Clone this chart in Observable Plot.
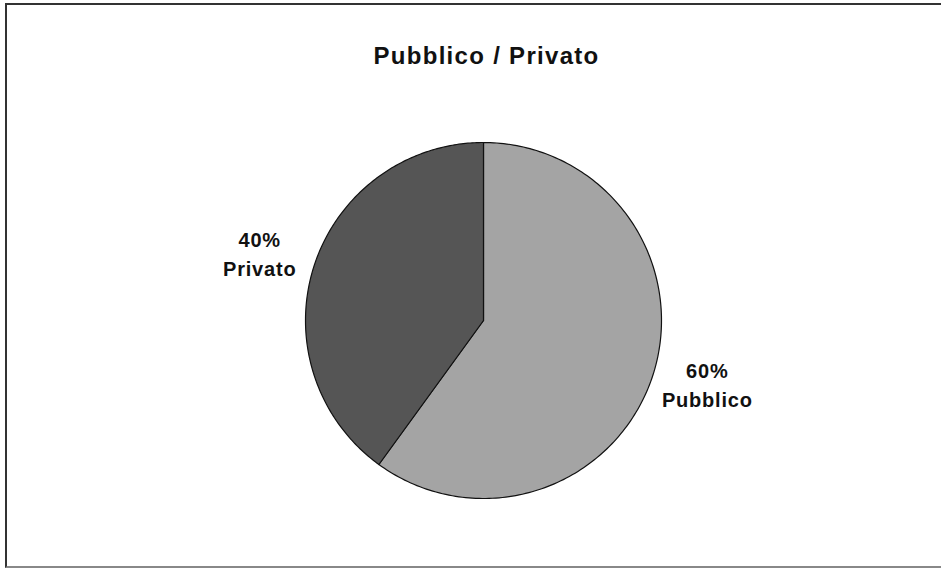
<!DOCTYPE html>
<html>
<head>
<meta charset="utf-8">
<script src="https://cdn.jsdelivr.net/npm/d3@7"></script>
<script src="https://cdn.jsdelivr.net/npm/@observablehq/plot@0.6"></script>
<style>
  html, body { margin: 0; padding: 0; background: #ffffff; }
  #wrap { position: relative; width: 941px; height: 569px; overflow: hidden; background: #fff; font-family: "Liberation Sans", Arial, sans-serif; }
  #frame { position: absolute; left: 5px; top: 3px; width: 936px; height: 565px; border-left: 2px solid #333; border-top: 2px solid #333; border-bottom: 2px solid #888; box-sizing: border-box; }
  #title { position: absolute; top: 42px; left: 0; width: 973px; text-align: center; font-weight: bold; font-size: 24px; letter-spacing: 1.3px; color: #111; }
  #chart { position: absolute; left: 0; top: 100px; }
  #chart text { letter-spacing: 0.8px; }
</style>
</head>
<body>
<div id="wrap">
  <div id="frame"></div>
  <div id="title">Pubblico / Privato</div>
  <div id="chart"></div>
</div>
<script>
const title = "Pubblico / Privato";
const categories = ["Pubblico", "Privato"];
const values = [60, 40];
const labels = ["60%\nPubblico", "40%\nPrivato"];
const colors = ["#a4a4a4", "#555555"];

document.getElementById("title").textContent = title;

const total = d3.sum(values);
let acc = 0;
const slices = categories.map((c, i) => {
  const a0 = acc / total * 2 * Math.PI;
  acc += values[i];
  const a1 = acc / total * 2 * Math.PI;
  return {category: c, a0, a1, label: labels[i]};
});

// wedge outline points derived from the data angles
const pts = [];
for (const s of slices) {
  pts.push({category: s.category, x: 0, y: 0});
  const n = 200;
  for (let k = 0; k <= n; ++k) {
    const a = s.a0 + (s.a1 - s.a0) * k / n;
    pts.push({category: s.category, x: Math.sin(a), y: Math.cos(a)});
  }
  pts.push({category: s.category, x: 0, y: 0});
}
const labelShift = -1.7 * Math.PI / 180;
const lab = slices.map(s => {
  const m = (s.a0 + s.a1) / 2 + labelShift;
  return {label: s.label, x: 1.31 * Math.sin(m), y: 1.31 * Math.cos(m)};
});

const plot = Plot.plot({
  width: 941,
  height: 469,
  marginLeft: 305,
  marginRight: 280,
  marginTop: 42,
  marginBottom: 71,
  x: {domain: [-1, 1], axis: null},
  y: {domain: [-1, 1], axis: null},
  color: {domain: categories, range: colors},
  style: {background: "transparent", overflow: "visible"},
  marks: [
    Plot.line(pts, {x: "x", y: "y", z: "category", fill: "category", stroke: "#111", strokeWidth: 1.2, curve: "linear"}),
    Plot.text(lab, {x: "x", y: "y", text: "label", dy: -3, fontSize: 20, fontWeight: "bold", lineHeight: 1.45, fill: "#111", textAnchor: "middle", fontFamily: "Liberation Sans, Arial, sans-serif"})
  ]
});
document.getElementById("chart").appendChild(plot);
</script>
</body>
</html>
